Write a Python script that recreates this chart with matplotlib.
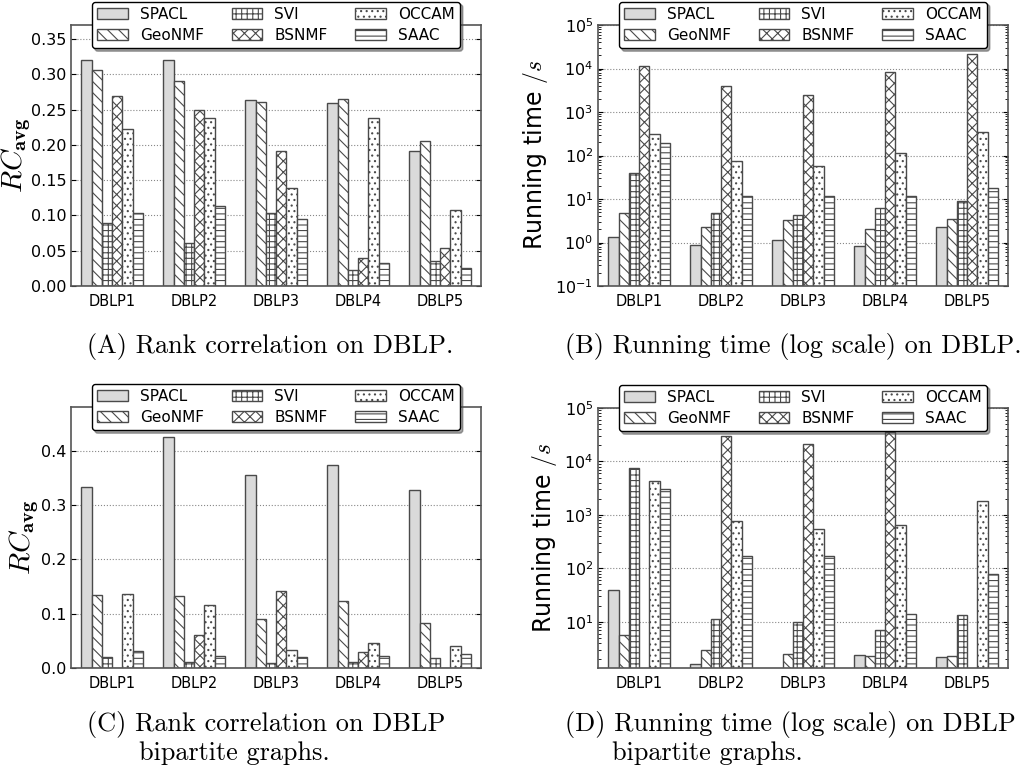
import numpy as np
import matplotlib
matplotlib.use('Agg')
import matplotlib.pyplot as plt

datasets = ['DBLP1', 'DBLP2', 'DBLP3', 'DBLP4', 'DBLP5']
methods = ['SPACL', 'GeoNMF', 'SVI', 'BSNMF', 'OCCAM', 'SAAC']
hatches = ['', '\\\\\\', '+++', 'xxx', '...', '---']

# (A) rank correlation on DBLP
rc_dblp = {
    'SPACL':  [0.321, 0.320, 0.263, 0.260, 0.192],
    'GeoNMF': [0.306, 0.291, 0.261, 0.265, 0.206],
    'SVI':    [0.090, 0.061, 0.104, 0.023, 0.036],
    'BSNMF':  [0.270, 0.250, 0.191, 0.040, 0.054],
    'OCCAM':  [0.223, 0.238, 0.139, 0.238, 0.108],
    'SAAC':   [0.104, 0.114, 0.095, 0.032, 0.025],
}
# (B) running time on DBLP
time_dblp = {
    'SPACL':  [1.33, 0.87, 1.13, 0.84, 2.25],
    'GeoNMF': [4.7, 2.25, 3.26, 2.03, 3.44],
    'SVI':    [39.3, 4.7, 4.25, 6.05, 9.1],
    'BSNMF':  [11500, 3860, 2520, 8240, 21300],
    'OCCAM':  [304, 75, 56, 117, 338],
    'SAAC':   [189, 12.0, 12.0, 12.0, 17.7],
}
# (C) rank correlation on DBLP bipartite
rc_bip = {
    'SPACL':  [0.333, 0.425, 0.355, 0.374, 0.327],
    'GeoNMF': [0.134, 0.132, 0.090, 0.123, 0.082],
    'SVI':    [0.021, 0.011, 0.009, 0.011, 0.018],
    'BSNMF':  [0.0, 0.061, 0.142, 0.029, 0.0],
    'OCCAM':  [0.136, 0.116, 0.033, 0.046, 0.040],
    'SAAC':   [0.031, 0.022, 0.020, 0.022, 0.026],
}
# (D) running time on DBLP bipartite (nan = not run)
time_bip = {
    'SPACL':  [39.3, 1.65, 1.2, 2.44, 2.24],
    'GeoNMF': [5.6, 2.99, 2.51, 2.27, 2.34],
    'SVI':    [7390, 11.5, 10.0, 7.1, 13.5],
    'BSNMF':  [np.nan, 29400, 20800, 35000, np.nan],
    'OCCAM':  [4220, 761, 538, 640, 1830],
    'SAAC':   [3030, 173, 173, 14.1, 79.4],
}

plt.rcParams['hatch.linewidth'] = 0.8
plt.rcParams['font.size'] = 10.5
plt.rcParams['mathtext.fontset'] = 'cm'

fig = plt.figure(figsize=(10.29, 7.74), dpi=100)
W, H = 1029.0, 774.0


def make_ax(left, top, right, bottom):
    return fig.add_axes([left / W, 1 - bottom / H, (right - left) / W, (bottom - top) / H])


def draw_panel(ax, data, log=False):
    bw = 0.125
    x = np.arange(len(datasets))
    for k, m in enumerate(methods):
        color = '#dadada' if m == 'SPACL' else 'white'
        ax.bar(x + 0.125 + k * bw, data[m], bw, align='edge', color=color,
               edgecolor='#4a4a4a', hatch=hatches[k], linewidth=1.0, label=m,
               log=log)
    ax.set_xlim(0, 5)
    ax.set_xticks(x + 0.5)
    ax.set_xticklabels(datasets, fontsize=10.5)
    ax.tick_params(axis='x', length=0, pad=6)
    ax.tick_params(axis='y', which='both', direction='in', right=True, labelsize=11.5)
    ax.yaxis.grid(True, linestyle=':', color='#888888', linewidth=0.8)
    ax.set_axisbelow(True)
    for s in ax.spines.values():
        s.set_color('#555555')
        s.set_linewidth(1.2)
    leg = ax.legend(ncol=3, loc='center', bbox_to_anchor=(0.5, 1.0), fontsize=11,
                    fancybox=True, shadow=True, handlelength=2.0, handleheight=0.75,
                    handletextpad=0.8, columnspacing=1.8, borderpad=0.35,
                    labelspacing=0.4)
    leg.get_frame().set_edgecolor('black')
    leg.get_frame().set_alpha(1)
    leg.set_zorder(5)


axA = make_ax(71, 25, 481, 286)
draw_panel(axA, rc_dblp)
axA.set_ylim(0, 0.37)
axA.set_yticks(np.arange(0, 0.36, 0.05))
axA.set_yticklabels(['%.2f' % v for v in np.arange(0, 0.36, 0.05)])
axA.set_ylabel(r'$RC_{\mathbf{avg}}$', fontsize=21, labelpad=-2)

axB = make_ax(598, 25, 1008, 286)
draw_panel(axB, time_dblp, log=True)
axB.set_ylim(0.1, 1e5)
axB.set_ylabel(r'Running time $/s$', fontsize=17, labelpad=4)

axC = make_ax(71, 407, 481, 668)
draw_panel(axC, rc_bip)
axC.set_ylim(0, 0.48)
axC.set_yticks([0.0, 0.1, 0.2, 0.3, 0.4])
axC.set_ylabel(r'$RC_{\mathbf{avg}}$', fontsize=21, labelpad=0)

axD = make_ax(598, 408, 1008, 668)
draw_panel(axD, time_bip, log=True)
axD.set_ylim(1.37, 1e5)
axD.set_yticks([10, 100, 1000, 10000, 100000])
axD.set_ylabel(r'Running time $/s$', fontsize=17, labelpad=4)

cap = dict(fontsize=18.9, family='cmr10', va='center', ha='left')
fig.text(87 / W, 1 - 346 / H, '(A) Rank correlation on DBLP.', **cap)
fig.text(565 / W, 1 - 346 / H, '(B) Running time (log scale) on DBLP.', **cap)
fig.text(87 / W, 1 - 724 / H, '(C) Rank correlation on DBLP', **cap)
fig.text(139 / W, 1 - 753 / H, 'bipartite graphs.', **cap)
fig.text(565 / W, 1 - 724 / H, '(D) Running time (log scale) on DBLP', **cap)
fig.text(612 / W, 1 - 753 / H, 'bipartite graphs.', **cap)

fig.savefig('out.png', dpi=100)
